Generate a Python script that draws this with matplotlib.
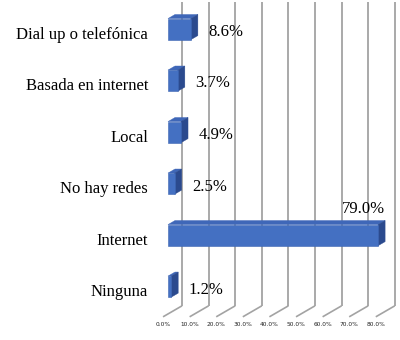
import matplotlib
matplotlib.use('Agg')
import matplotlib.pyplot as plt
from matplotlib.patches import Polygon

# data
categorias = ['Dial up o telefónica', 'Basada en internet', 'Local',
              'No hay redes', 'Internet', 'Ninguna']
valores = [8.6, 3.7, 4.9, 2.5, 79.0, 1.2]
ticks = [0, 10, 20, 30, 40, 50, 60, 70, 80]

# fake 3D settings (data units)
DX, DY = 7.14, -0.2136        # full floor depth
d0, d1 = 0.26, 0.63           # bar front / back depth (fraction)
h = 0.41                      # bar height

fig = plt.figure(figsize=(4, 3.4), dpi=100)
ax = fig.add_axes([0, 0, 1, 1])
ax.set_xlim(-61.3, 89.1)
ax.set_ylim(5.98, -0.621)
ax.axis('off')

floor = 5.53
top = -0.58
grid_c = '#a3a3a3'
for t in ticks:
    # diagonal on floor + vertical on back wall
    ax.plot([t, t + DX], [floor, floor + DY], color=grid_c, lw=1.2,
            solid_capstyle='butt', zorder=1)
    ax.plot([t + DX, t + DX], [floor + DY, top], color=grid_c, lw=1.3,
            solid_capstyle='butt', zorder=1)
    ax.text(t, 5.67, f'{t:.1f}%', ha='center', va='center', fontsize=4.2,
            color='#222222', family='DejaVu Sans')

sx, sy = d0 * DX, d0 * DY
bdx, bdy = (d1 - d0) * DX, (d1 - d0) * DY
ys = list(range(len(categorias)))

ax.barh([y + sy for y in ys], valores, height=h, left=sx,
        color='#4470c2', edgecolor='#3d66b3', lw=0.4, zorder=3)

for y, v in zip(ys, valores):
    yt = y + sy - h / 2
    yb = y + sy + h / 2
    x1 = sx + v
    top_face = Polygon([(sx, yt), (x1, yt), (x1 + bdx, yt + bdy), (sx + bdx, yt + bdy)],
                       closed=True, facecolor='#3f67b8', edgecolor='#3f67b8',
                       lw=0.3, zorder=2)
    side_face = Polygon([(x1, yt), (x1, yb), (x1 + bdx, yb + bdy), (x1 + bdx, yt + bdy)],
                        closed=True, facecolor='#2b4a8e', edgecolor='#2b4a8e',
                        lw=0.3, zorder=2)
    ax.add_patch(top_face)
    ax.add_patch(side_face)

    if v > 70:
        ax.text(v + 4.3, y - 0.56, f'{v:.1f}%', ha='right', va='center',
                fontsize=12, family='Liberation Serif', color='black')
    else:
        ax.text(v + 8.3, y, f'{v:.1f}%', ha='left', va='center',
                fontsize=12, family='Liberation Serif', color='black')

for y, c in zip(ys, categorias):
    ax.text(-5.6, y + 0.05, c, ha='right', va='center', fontsize=12,
            family='Liberation Serif', color='black')

fig.savefig('out.png', dpi=100)
